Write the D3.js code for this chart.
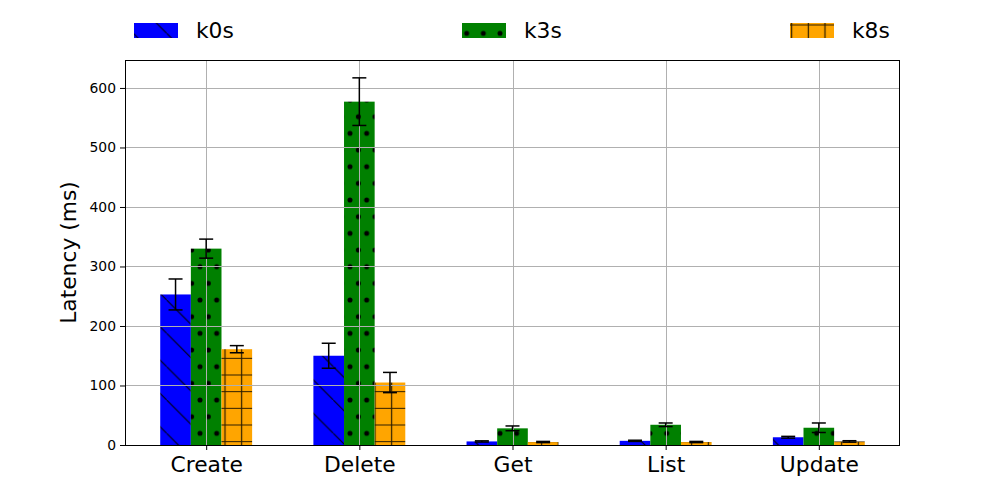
<!DOCTYPE html>
<html lang="en">
<head>
  <meta charset="UTF-8">
  <title>Latency</title>
  <script src="https://cdn.jsdelivr.net/npm/d3@7"></script>
  <style>
    body { margin: 0; background: #fff; }
    text { font-family: "DejaVu Sans", sans-serif; }
  </style>
</head>
<body>
  <script>
    // data
    var categories = ["Create", "Delete", "Get", "List", "Update"];
    var seriesNames = ["k0s", "k3s", "k8s"];
    var k0s = [253, 150, 6, 7, 13];
    var k3s = [330, 577, 28, 34, 29];
    var k8s = [161, 105, 5, 5, 6];
    var k0sErr = [26, 21, 1, 1, 1.5];
    var k3sErr = [16, 40, 4, 3, 8];
    var k8sErr = [6, 17, 1, 1, 1.2];
    var yTicks = [0, 100, 200, 300, 400, 500, 600];

    var colors = ["#0000ff", "#008000", "#ffa500"];
    var patterns = ["hatchDiag", "hatchDots", "hatchGrid"];
    var values = [k0s, k3s, k8s];
    var errs = [k0sErr, k3sErr, k8sErr];

    var width = 1000, height = 500;
    var mLeft = 125, mRight = 900, mTop = 60, mBottom = 445;
    var bigFont = "21.8px";

    var svg = d3.select("body").append("svg")
      .attr("width", width).attr("height", height);

    // hatch patterns (absolute coords, like matplotlib)
    var defs = svg.append("defs");
    var h = 100 / 3;
    var p1 = defs.append("pattern").attr("id", "hatchDiag")
      .attr("patternUnits", "userSpaceOnUse")
      .attr("width", h).attr("height", h);
    p1.append("rect").attr("width", h).attr("height", h).attr("fill", colors[0]);
    p1.append("path").attr("d", "M-5,-5L" + (h + 5) + "," + (h + 5))
      .attr("stroke", "#000").attr("stroke-width", 1);

    var p2 = defs.append("pattern").attr("id", "hatchDots")
      .attr("patternUnits", "userSpaceOnUse")
      .attr("width", h / 2).attr("height", h);
    p2.append("rect").attr("width", h / 2).attr("height", h).attr("fill", colors[1]);
    [[0, 0], [h / 2, 0], [0, h], [h / 2, h], [h / 4, h / 2]].forEach(function(c) {
      p2.append("circle").attr("cx", c[0]).attr("cy", c[1]).attr("r", 2.5).attr("fill", "#000");
    });

    var g = h / 2;
    var p3 = defs.append("pattern").attr("id", "hatchGrid")
      .attr("patternUnits", "userSpaceOnUse")
      .attr("width", g).attr("height", g);
    p3.append("rect").attr("width", g).attr("height", g).attr("fill", colors[2]);
    p3.append("path").attr("d", "M" + g / 2 + ",0V" + g + "M0," + g / 2 + "H" + g)
      .attr("stroke", "#2a1c00").attr("stroke-width", 1.2);

    // scales
    var x = d3.scaleLinear().domain([-0.53, 4.53]).range([mLeft, mRight]);
    var y = d3.scaleLinear().domain([0, 647]).range([mBottom, mTop]);
    var barW = x(0.2) - x(0);

    // bars
    values.forEach(function(vals, s) {
      svg.append("g").selectAll("rect")
        .data(vals)
        .enter().append("rect")
        .attr("x", function(d, i) { return x(i + (s - 1) * 0.2) - barW / 2; })
        .attr("y", function(d) { return y(d); })
        .attr("width", barW)
        .attr("height", function(d) { return y(0) - y(d); })
        .attr("fill", "url(#" + patterns[s] + ")");
    });

    // grid on top of bars
    var grid = svg.append("g").attr("stroke", "#b0b0b0").attr("stroke-width", 1);
    yTicks.forEach(function(t) {
      grid.append("line").attr("x1", mLeft).attr("x2", mRight)
        .attr("y1", Math.round(y(t)) + 0.5).attr("y2", Math.round(y(t)) + 0.5);
    });
    categories.forEach(function(c, i) {
      grid.append("line").attr("y1", mTop).attr("y2", mBottom)
        .attr("x1", Math.round(x(i)) + 0.5).attr("x2", Math.round(x(i)) + 0.5);
    });

    // error bars
    values.forEach(function(vals, s) {
      var eg = svg.append("g").attr("stroke", "#000").attr("stroke-width", 1.5);
      vals.forEach(function(v, i) {
        var cx = x(i + (s - 1) * 0.2);
        var e = errs[s][i];
        eg.append("line").attr("x1", cx).attr("x2", cx).attr("y1", y(v - e)).attr("y2", y(v + e));
        eg.append("line").attr("x1", cx - 7).attr("x2", cx + 7).attr("y1", y(v - e)).attr("y2", y(v - e));
        eg.append("line").attr("x1", cx - 7).attr("x2", cx + 7).attr("y1", y(v + e)).attr("y2", y(v + e));
      });
    });

    // axes
    var axisY = d3.axisLeft(y).tickValues(yTicks).tickSize(5).tickPadding(4);
    var gy = svg.append("g").attr("transform", "translate(" + mLeft + ",0)").call(axisY);
    gy.select(".domain").remove();
    gy.selectAll("text").attr("font-size", "13.9px").attr("fill", "#000")
      .style("font-family", "DejaVu Sans");

    var axisX = d3.axisBottom(x).tickValues(d3.range(categories.length))
      .tickFormat(function(d) { return categories[d]; }).tickSize(5).tickPadding(6.5);
    var gx = svg.append("g").attr("transform", "translate(0," + mBottom + ")").call(axisX);
    gx.select(".domain").remove();
    gx.selectAll("text").attr("font-size", bigFont).attr("fill", "#000")
      .style("font-family", "DejaVu Sans");

    svg.append("rect").attr("x", mLeft + 0.5).attr("y", mTop + 0.5)
      .attr("width", mRight - mLeft - 1).attr("height", mBottom - mTop)
      .attr("fill", "none").attr("stroke", "#000").attr("stroke-width", 1);

    // y label
    svg.append("text")
      .attr("transform", "translate(76," + ((mTop + mBottom) / 2) + ") rotate(-90)")
      .attr("text-anchor", "middle")
      .attr("font-size", bigFont)
      .text("Latency (ms)");

    // legend
    var legendX = [134, 462, 790];
    seriesNames.forEach(function(n, s) {
      svg.append("rect").attr("x", legendX[s]).attr("y", 23)
        .attr("width", 44).attr("height", 15)
        .attr("fill", "url(#" + patterns[s] + ")");
      svg.append("text").attr("x", legendX[s] + 62).attr("y", 38.3)
        .attr("font-size", bigFont).text(n);
    });
  </script>
</body>
</html>
